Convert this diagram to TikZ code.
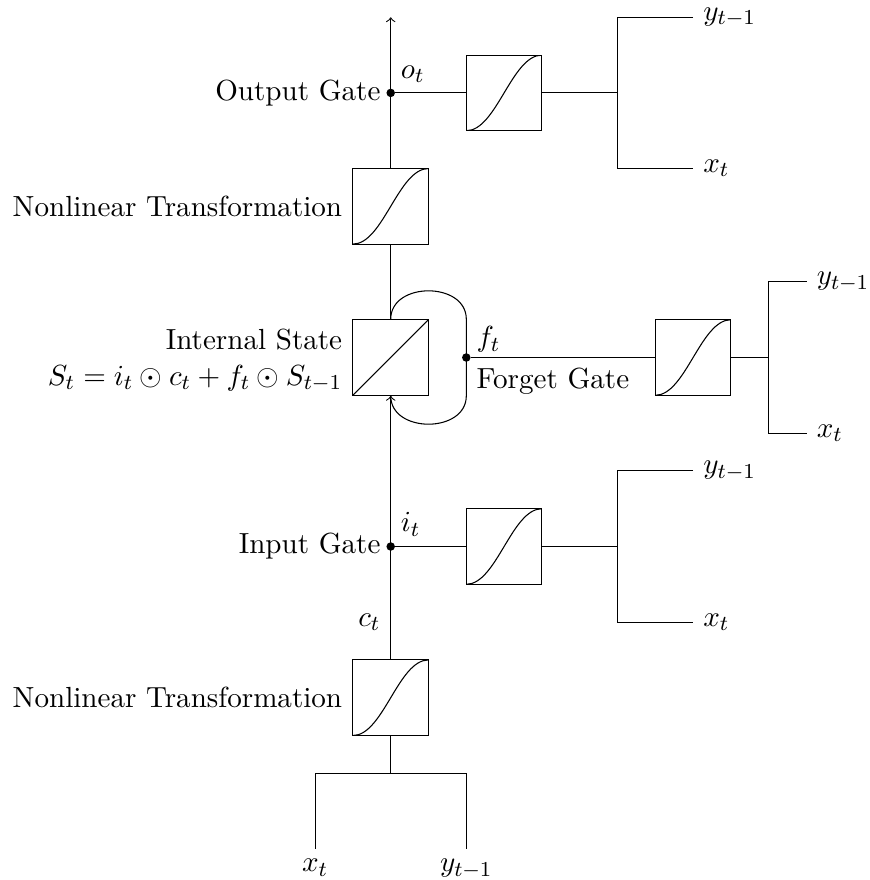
\documentclass[tikz,border=0pt,11pt]{standalone}
\usetikzlibrary{positioning}

\begin{document}
\begin{tikzpicture}[
	box/.style={draw, rectangle, minimum size=1cm, inner sep=0pt},
	sigbox/.style={box, path picture={\draw (path picture bounding box.south west) .. controls +(0.4,0) and +(-0.4,0) .. (path picture bounding box.north east);}},
	statebox/.style={box, path picture={\draw (path picture bounding box.south west) -- (path picture bounding box.north east);}},
	dot/.style={circle, fill, inner sep=0pt, minimum size=3.2pt},
	]
	\useasboundingbox (-5.168,-1.411) rectangle (6.327,10.229);
	
	%-----------------------
	% Customizable heights
	%-----------------------
	\def\hfork{0}
	\def\hnlin{1}
	\def\hct{2}
	\def\hin{3}
	\def\hstate{5.5}
	\def\hnlout{7.5}
	\def\hout{9}
	\def\htop{10}
	
	%-----------------------
	% Bottom: inputs
	%-----------------------
	\coordinate (fork) at (0,\hfork);
	\coordinate (xb) at (-1,\hfork-1);
	\coordinate (yb) at ( 1,\hfork-1);
	\node[below] (xblab) at (xb) {$x_t$};
	\node[below] (yblab) at (yb) {$y_{t-1}$};
	
	%-----------------------
	% Nonlinear transformation (input)
	%-----------------------
	\node[sigbox] (nlin) at (0,\hnlin) {};
	\node[left] (nlinlab) at (nlin.west) {Nonlinear Transformation};
	\node[left] (ctlab) at (0,\hct) {$c_t$};
	
	%-----------------------
	% Input gate
	%-----------------------
	\node[dot] (idot) at (0,\hin) {};
	\node[left] (ilab) at (idot) {Input Gate};
	\node[above right] (itlab) at (idot) {$i_t$};
	\node[sigbox] (ibox) at (1.5,\hin) {};
	\coordinate (ifork) at (3,\hin);
	\coordinate (iy) at (4,\hin+1);
	\coordinate (ix) at (4,\hin-1);
	\node[right] (iylab) at (iy) {$y_{t-1}$};
	\node[right] (ixlab) at (ix) {$x_t$};
	
	%-----------------------
	% Internal state + forget gate
	%-----------------------
	\node[statebox] (state) at (0,\hstate) {};
	\node[left, align=right] (statelab) at ([yshift=-1pt]state.west) {Internal State\\$S_t = i_t \odot c_t + f_t \odot S_{t-1}$};
	\node[dot] (fdot) at (1,\hstate) {};
	\node[above right] (ftlab) at ([yshift=-2pt]fdot) {$f_t$};
	\node[below right] (flab) at (fdot) {Forget Gate};
	\node[sigbox] (fbox) at (4,\hstate) {};
	\coordinate (ffork) at (5,\hstate);
	\coordinate (fy) at (5.5,\hstate+1);
	\coordinate (fx) at (5.5,\hstate-1);
	\node[right] (fylab) at (fy) {$y_{t-1}$};
	\node[right] (fxlab) at (fx) {$x_t$};
	
	%-----------------------
	% Nonlinear transformation (output)
	%-----------------------
	\node[sigbox] (nlout) at (0,\hnlout) {};
	\node[left] (nloutlab) at (nlout.west) {Nonlinear Transformation};
	
	%-----------------------
	% Output gate
	%-----------------------
	\node[dot] (odot) at (0,\hout) {};
	\node[left] (olab) at (odot) {Output Gate};
	\node[above right] (otlab) at (odot) {$o_t$};
	\node[sigbox] (obox) at (1.5,\hout) {};
	\coordinate (ofork) at (3,\hout);
	\coordinate (oy) at (4,\hout+1);
	\coordinate (ox) at (4,\hout-1);
	\node[right] (oylab) at (oy) {$y_{t-1}$};
	\node[right] (oxlab) at (ox) {$x_t$};
	\coordinate (top) at (0,\htop);
	
	%-----------------------
	% Connections
	%-----------------------
	% main line
	\draw (xb) |- (fork) -| (yb);
	\draw (fork) -- (nlin.south);
	\draw[->] (nlin.north) -- (state.south);
	\draw (state.north) -- (nlout.south);
	\draw[->] (nlout.north) -- (top);
	
	% recurrence loop
	\draw (state.north) .. controls +(0,0.5) and +(0,0.5) .. (state.north -| fdot) -- (state.south -| fdot) .. controls +(0,-0.5) and +(0,-0.5) .. (state.south);
	
	% gates
	\draw (idot) -- (ibox.west);
	\draw (ibox.east) -- (ifork);
	\draw (iy) -| (ifork) |- (ix);
	
	\draw (fdot) -- (fbox.west);
	\draw (fbox.east) -- (ffork);
	\draw (fy) -| (ffork) |- (fx);
	
	\draw (odot) -- (obox.west);
	\draw (obox.east) -- (ofork);
	\draw (oy) -| (ofork) |- (ox);
	
\end{tikzpicture}
\end{document}
